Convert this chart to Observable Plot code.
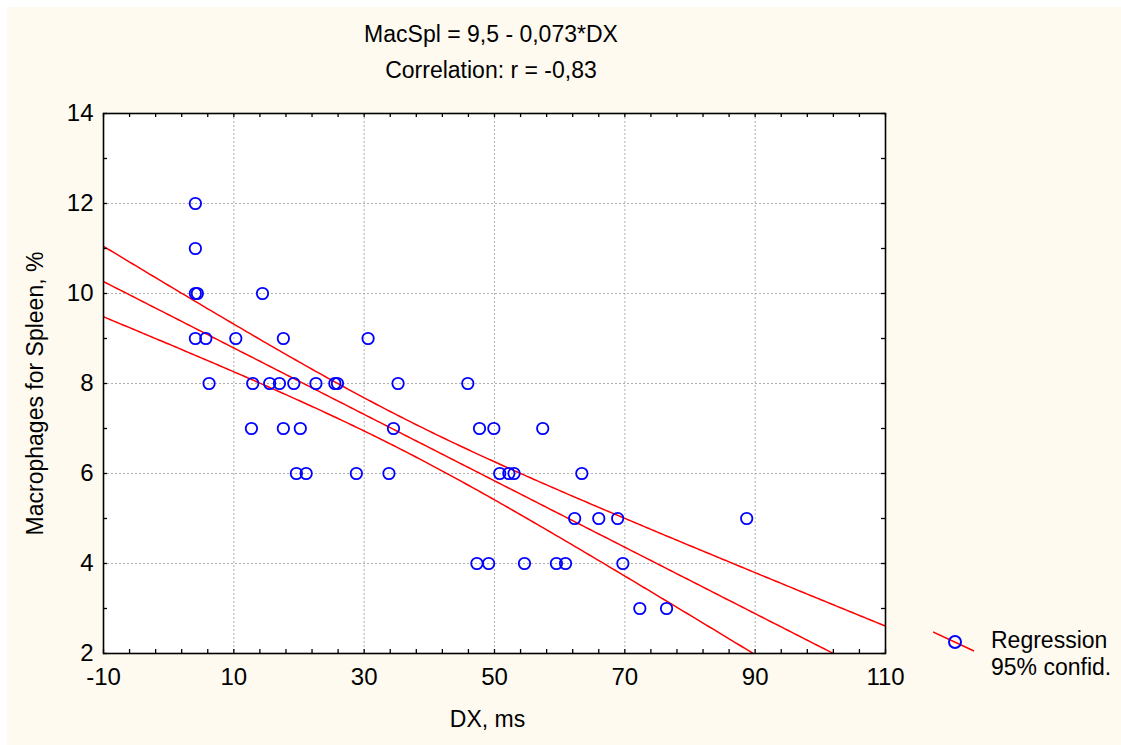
<!DOCTYPE html>
<html><head><meta charset="utf-8">
<script src="https://cdn.jsdelivr.net/npm/d3@7"></script>
<script src="https://cdn.jsdelivr.net/npm/@observablehq/plot@0.6"></script>
<style>
body{margin:0;background:#fff;font-family:"Liberation Sans",Arial,Helvetica,sans-serif;}
#wrap{position:absolute;left:7px;top:7px;width:1114px;height:738px;background:#FEFAF0;overflow:hidden}
#title{position:absolute;left:0;top:9px;width:968px;text-align:center;font-size:23px;line-height:36px;color:#000}
#chart{position:absolute;left:0;top:86px}
#legend{position:absolute;left:984px;top:620px;font-size:23px;line-height:27px;color:#000}
#legsym{position:absolute;left:926px;top:620px}
</style></head>
<body>
<div id="wrap">
  <div id="title"><div>MacSpl = 9,5 - 0,073*DX</div><div>Correlation: r = -0,83</div></div>
  <div id="chart"></div>
  <svg id="legsym" width="45" height="30"><line x1="0" y1="5" x2="41" y2="24" stroke="red" stroke-width="1.5"/><circle cx="22" cy="15" r="6" fill="none" stroke="blue" stroke-width="2"/></svg>
  <div id="legend">Regression<br>95% confid.</div>
</div>
<script>
// Data
const dxValues = [
  4.1, 4.1, 4.1, 4.4, 14.4,
  4.1, 5.7, 10.3, 17.6, 30.6,
  6.2, 12.9, 15.5, 17.0, 19.2, 22.6, 25.5, 25.9, 35.2, 45.9,
  12.7, 17.6, 20.2, 34.5, 47.7, 49.9, 57.4,
  19.6, 21.1, 28.8, 33.8, 50.8, 52.2, 53.0, 63.4,
  62.3, 66.0, 68.9, 88.7,
  47.3, 49.1, 54.6, 59.5, 60.9, 69.7,
  72.3, 76.4
];
const macSplValues = [
  12, 11, 10, 10, 10,
  9, 9, 9, 9, 9,
  8, 8, 8, 8, 8, 8, 8, 8, 8, 8,
  7, 7, 7, 7, 7, 7, 7,
  6, 6, 6, 6, 6, 6, 6, 6,
  5, 5, 5, 5,
  4, 4, 4, 4, 4, 4,
  3, 3
];
const xTickLabels = [-10, 10, 30, 50, 70, 90, 110];
const yTickLabels = [2, 4, 6, 8, 10, 12, 14];
const xMinorTicks = d3.range(-10, 110.001, 4);
const yMinorTicks = d3.range(2, 14.001, 1);
const xLabel = "DX, ms";
const yLabel = "Macrophages for Spleen, %";

// Linear regression with 95% confidence band, computed from the data
const n = dxValues.length;
const xbar = d3.mean(dxValues), ybar = d3.mean(macSplValues);
let sxx = 0, sxy = 0;
for (let i = 0; i < n; i++) {
  sxx += (dxValues[i] - xbar) ** 2;
  sxy += (dxValues[i] - xbar) * (macSplValues[i] - ybar);
}
const slope = sxy / sxx, intercept = ybar - slope * xbar;
let sse = 0;
for (let i = 0; i < n; i++) sse += (macSplValues[i] - (intercept + slope * dxValues[i])) ** 2;
const s = Math.sqrt(sse / (n - 2));
const tCrit = 2.014;
const evalX = d3.range(-10, 110.001, 0.5);
const fit = evalX.map(x => {
  const yh = intercept + slope * x;
  const h = tCrit * s * Math.sqrt(1 / n + (x - xbar) ** 2 / sxx);
  return {x, y: yh, lo: yh - h, hi: yh + h};
});
const points = dxValues.map((x, i) => ({x, y: macSplValues[i]}));

const W = 782, H = 540, tk = 4;
const font = "'Liberation Sans', Arial, Helvetica, sans-serif";
const lineStyle = {stroke: "red", strokeWidth: 1.5, clip: true};
const tickStyle = {stroke: "black", strokeWidth: 1.3};

const plot = Plot.plot({
  width: 1114, height: 652,
  marginLeft: 96, marginRight: 236, marginTop: 20, marginBottom: 92,
  x: {domain: [-10, 110]},
  y: {domain: [2, 14]},
  style: {fontFamily: font, fontSize: "23px", background: "transparent", color: "#000"},
  marks: [
    Plot.frame({fill: "white"}),
    Plot.gridX({ticks: xTickLabels, stroke: "#b0b0b0", strokeOpacity: 1, strokeDasharray: "2,2"}),
    Plot.gridY({ticks: yTickLabels, stroke: "#b0b0b0", strokeOpacity: 1, strokeDasharray: "2,2"}),
    Plot.line(fit, {x: "x", y: "hi", ...lineStyle}),
    Plot.line(fit, {x: "x", y: "y", ...lineStyle}),
    Plot.line(fit, {x: "x", y: "lo", ...lineStyle}),
    Plot.dot(points, {x: "x", y: "y", r: 5.7, stroke: "blue", strokeWidth: 1.8, fill: "none"}),
    Plot.ruleX(xMinorTicks, {insetTop: H - tk, ...tickStyle}),
    Plot.ruleX(xMinorTicks, {insetBottom: H - tk, ...tickStyle}),
    Plot.ruleY(yMinorTicks, {insetRight: W - tk, ...tickStyle}),
    Plot.ruleY(yMinorTicks, {insetLeft: W - tk, ...tickStyle}),
    Plot.frame({stroke: "black", strokeWidth: 1.6}),
    Plot.axisX({ticks: xTickLabels, tickSize: 0, tickPadding: 14, fontSize: 24, label: null, tickFormat: d => String(d)}),
    Plot.axisY({ticks: yTickLabels, tickSize: 0, tickPadding: 10, fontSize: 24, label: null, tickFormat: d => String(d)}),
    Plot.text([xLabel], {text: d => d, frameAnchor: "bottom", textAnchor: "middle", dx: -7, dy: 66, lineAnchor: "middle", fontSize: 23}),
    Plot.text([yLabel], {text: d => d, frameAnchor: "left", textAnchor: "middle", rotate: -90, dx: -68, dy: 10, lineAnchor: "middle", fontSize: 23})
  ]
});
document.getElementById("chart").appendChild(plot);
</script>
</body></html>
